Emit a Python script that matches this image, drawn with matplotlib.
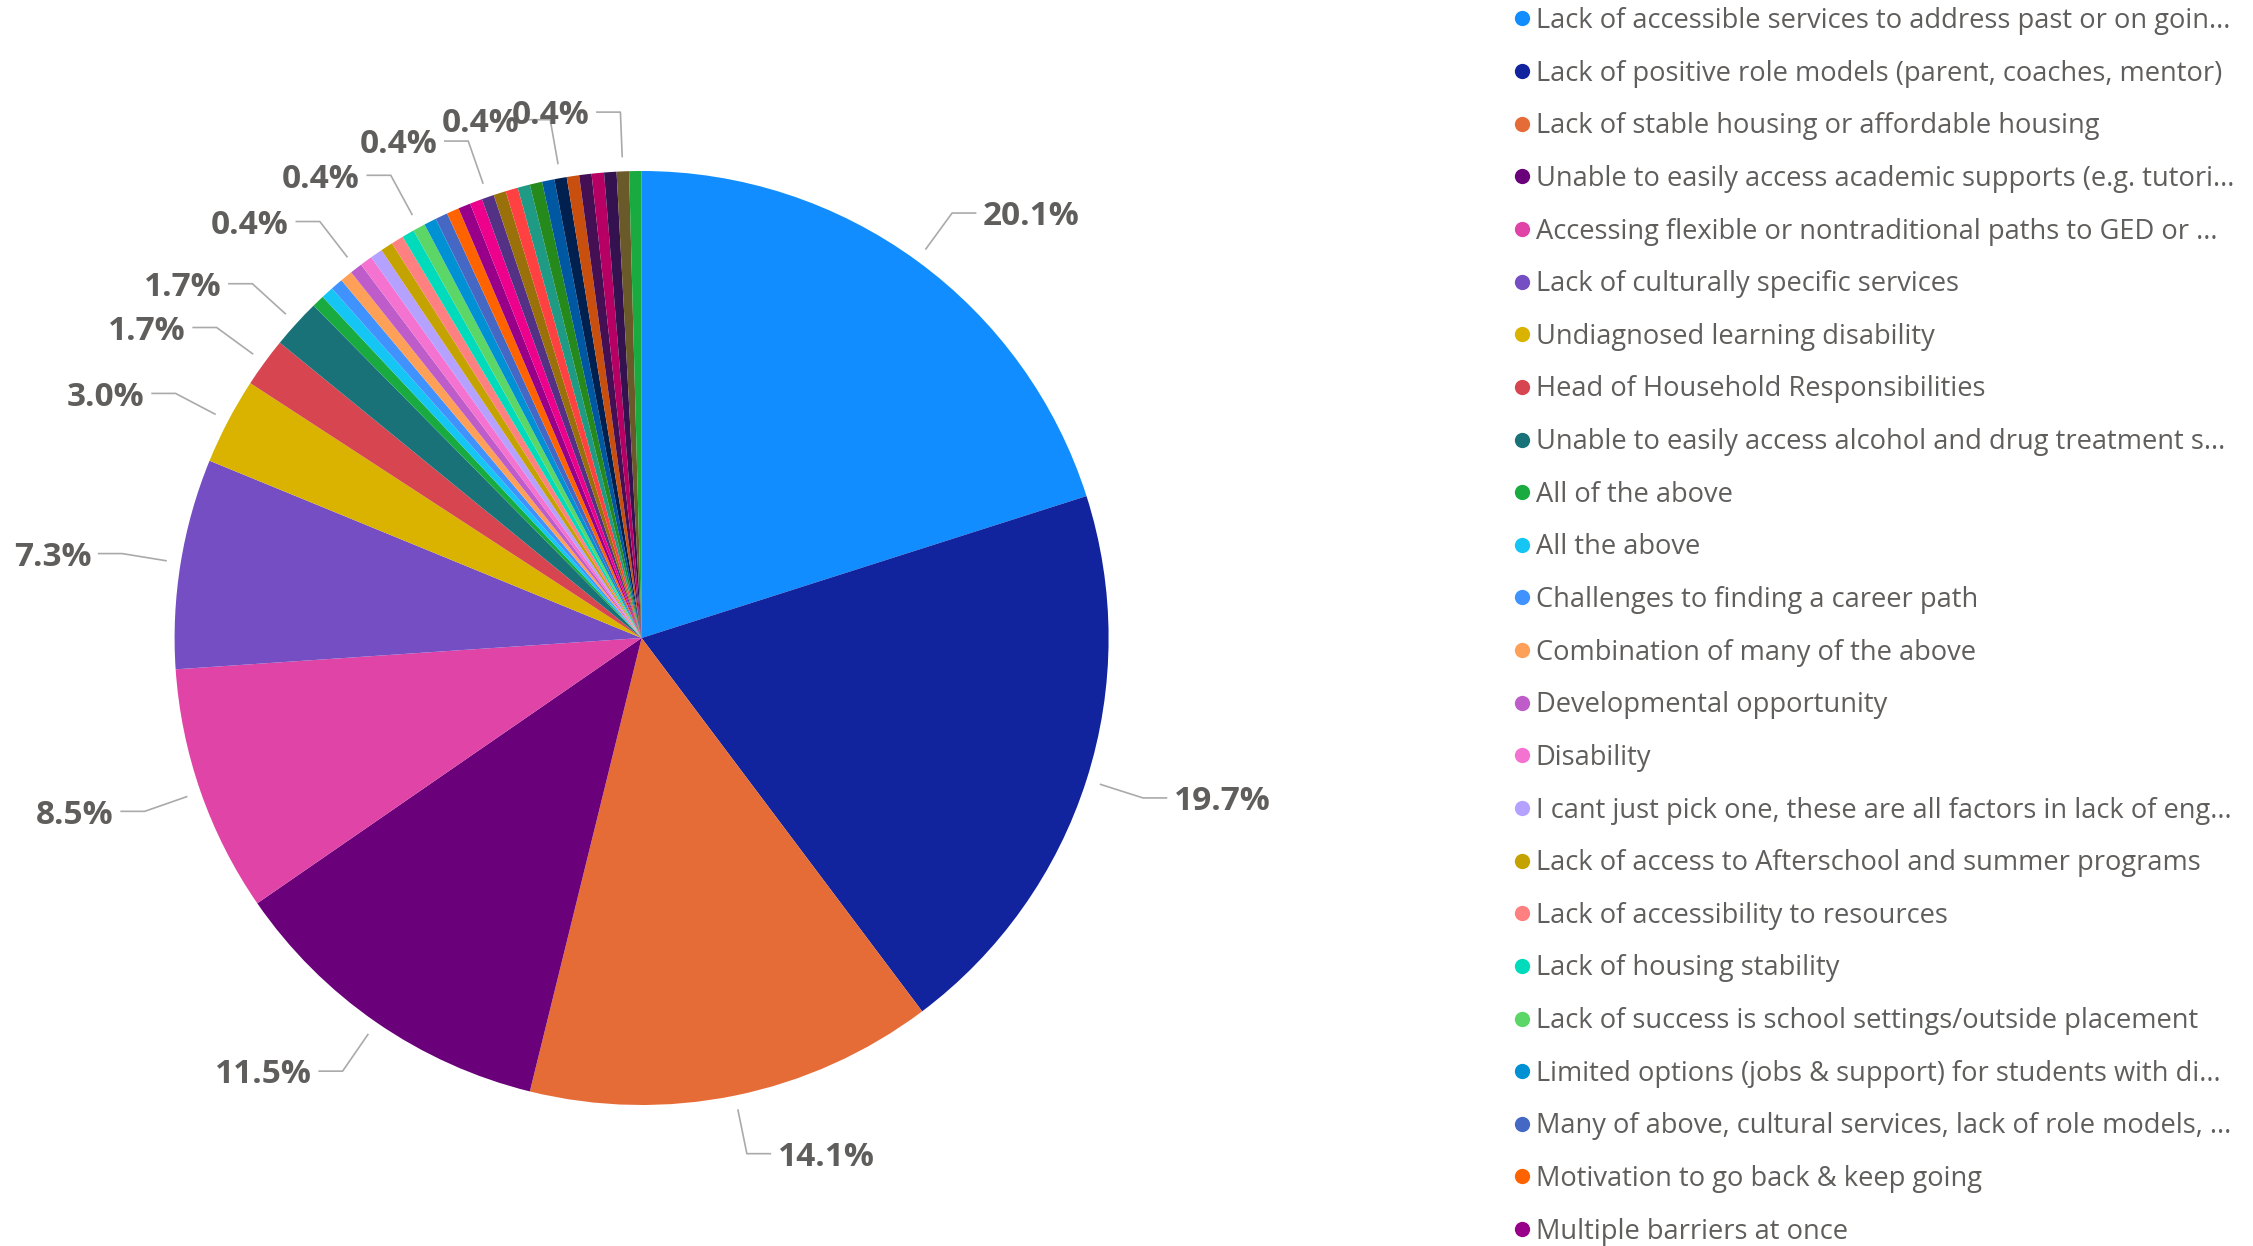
import numpy as np
import matplotlib.pyplot as plt
from matplotlib.lines import Line2D

plt.rcParams['font.family'] = ['Open Sans', 'DejaVu Sans']

# responses per barrier (share of 234 answers)
counts = [47, 46, 33, 27, 20, 17, 7, 4, 4,
          1, 1, 1, 1, 1, 1, 1, 1, 1, 1,
          1, 1, 1, 1, 1, 1, 1, 1, 1, 1,
          1, 1, 1, 1, 1, 1, 1, 1, 1]

# legend names (only the first 24 are visible in the legend)
categories = [
    "Lack of accessible services to address past or on goin...",
    "Lack of positive role models (parent, coaches, mentor)",
    "Lack of stable housing or affordable housing",
    "Unable to easily access academic supports (e.g. tutori...",
    "Accessing flexible or nontraditional paths to GED or ...",
    "Lack of culturally specific services",
    "Undiagnosed learning disability",
    "Head of Household Responsibilities",
    "Unable to easily access alcohol and drug treatment s...",
    "All of the above",
    "All the above",
    "Challenges to finding a career path",
    "Combination of many of the above",
    "Developmental opportunity",
    "Disability",
    "I cant just pick one, these are all factors in lack of eng...",
    "Lack of access to Afterschool and summer programs",
    "Lack of accessibility to resources",
    "Lack of housing stability",
    "Lack of success is school settings/outside placement",
    "Limited options (jobs & support) for students with di...",
    "Many of above, cultural services, lack of role models, ...",
    "Motivation to go back & keep going",
    "Multiple barriers at once",
]
n_legend = len(categories)
categories = categories + ["(other %d)" % i for i in range(len(counts) - n_legend)]

colors = ["#118DFF", "#12239E", "#E66C37", "#6B007B", "#E044A7", "#744EC2",
          "#D9B300", "#D64550", "#197278", "#1AAB40", "#15C6F4", "#4092FF",
          "#FFA058", "#BE5DC9", "#F472D0", "#B5A1FF", "#C4A200", "#FF8080",
          "#00DBBC", "#5BD667", "#0091D5", "#4668C5", "#FF6300", "#99008A",
          "#EC008C", "#533285", "#99700A", "#FF4141", "#1F9A85", "#25891C",
          "#0057A2", "#002050", "#C94F0F", "#450F54", "#B60064", "#34124F",
          "#6A5A29", "#1AAB40"]

# slices that get a data label
labelled = [0, 1, 2, 3, 4, 5, 6, 7, 8, 13, 19, 25, 31, 36]

W, H = 2253, 1246
cx, cy, R = 641.6, 638.0, 467.0

fig = plt.figure(figsize=(W / 100, H / 100), dpi=100)
ax = fig.add_axes([0, 0, 1, 1])

wedges, _ = ax.pie(counts, colors=colors, startangle=90, counterclock=False,
                   radius=1.0, wedgeprops=dict(linewidth=0))
ax.set_aspect('auto')
ax.set_xlim(-cx / R, (W - cx) / R)
ax.set_ylim(-(H - cy) / R, cy / R)
ax.axis('off')

total = float(sum(counts))
cum = np.cumsum(counts) - np.array(counts) / 2.0
txt_color = "#605E5C"
for i in labelled:
    theta = np.deg2rad(90 - 360 * cum[i] / total)
    x0, y0 = 1.03 * np.cos(theta), 1.03 * np.sin(theta)
    x1, y1 = 1.127 * np.cos(theta), 1.127 * np.sin(theta)
    side = 1 if np.cos(theta) >= 0 else -1
    x2 = x1 + side * 0.052
    ax.plot([x0, x1, x2], [y0, y1, y1], color="#AAAAAA", lw=1.2,
            solid_capstyle='butt')
    pct = 100 * counts[i] / total
    ax.text(x2 + side * 0.014, y1 - 0.008, "%.1f%%" % pct,
            ha='left' if side > 0 else 'right', va='center',
            fontsize=24, fontweight='bold', color=txt_color)

handles = [Line2D([], [], marker='o', linestyle='none', markersize=11,
                  markerfacecolor=colors[i], markeredgewidth=0)
           for i in range(n_legend)]
leg = fig.legend(handles, categories[:n_legend], loc='upper left',
                 bbox_to_anchor=(1514 / W, 1 - 7 / H), frameon=False,
                 fontsize=19.6, handlelength=0.6, handletextpad=0.2,
                 labelspacing=0.905, borderpad=0, borderaxespad=0)
for t in leg.get_texts():
    t.set_color(txt_color)

fig.savefig("out.png", dpi=100)
